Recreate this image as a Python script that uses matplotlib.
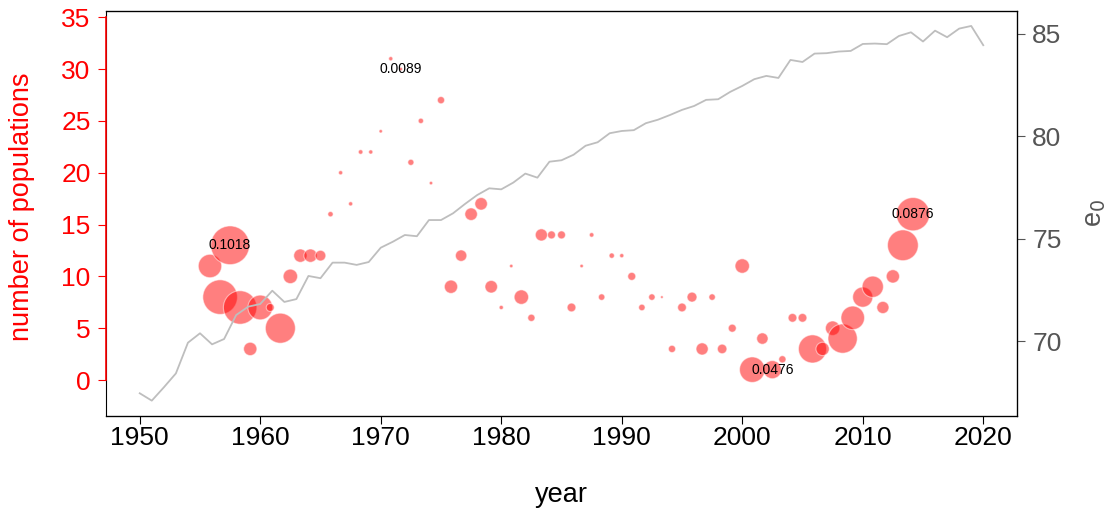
import matplotlib
matplotlib.use("Agg")
from matplotlib import pyplot as plt

plt.rcParams['font.family'] = ['Liberation Sans', 'DejaVu Sans']

# life expectancy line (right axis)
line_years = list(range(1950, 2021))
e0 = [67.45, 67.09, 67.74, 68.42, 69.92, 70.38, 69.84, 70.10, 71.27, 71.68,
      71.81, 72.46, 71.91, 72.05, 73.18, 73.07, 73.83, 73.83, 73.72, 73.86,
      74.56, 74.85, 75.18, 75.12, 75.91, 75.91, 76.24, 76.70, 77.13, 77.46,
      77.41, 77.74, 78.18, 77.98, 78.76, 78.83, 79.10, 79.54, 79.71, 80.15,
      80.26, 80.30, 80.64, 80.81, 81.04, 81.29, 81.48, 81.78, 81.81, 82.17,
      82.46, 82.79, 82.95, 82.85, 83.73, 83.63, 84.04, 84.06, 84.14, 84.17,
      84.51, 84.53, 84.50, 84.90, 85.08, 84.63, 85.16, 84.84, 85.26, 85.39,
      84.45]

# bubbles (left axis)
bubble_x = [1955.83, 1956.67, 1957.50, 1958.33, 1959.17, 1960.00, 1960.83,
            1961.67, 1962.50, 1963.33, 1964.17, 1965.00, 1965.83, 1966.67,
            1967.50, 1968.33, 1969.17, 1970.00, 1970.83, 1971.67, 1972.50,
            1973.33, 1974.17, 1975.00, 1975.83, 1976.67, 1977.50, 1978.33,
            1979.17, 1980.00, 1980.83, 1981.67, 1982.50, 1983.33, 1984.17,
            1985.00, 1985.83, 1986.67, 1987.50, 1988.33, 1989.17, 1990.00,
            1990.83, 1991.67, 1992.50, 1993.33, 1994.17, 1995.00, 1995.83,
            1996.67, 1997.50, 1998.33, 1999.17, 2000.00, 2000.83, 2001.67,
            2002.50, 2003.33, 2004.17, 2005.00, 2005.83, 2006.67, 2007.50,
            2008.33, 2009.17, 2010.00, 2010.83, 2011.67, 2012.50, 2013.33,
            2014.17]
n_pops = [11, 8, 13, 7, 3, 7, 7, 5, 10, 12, 12, 12, 16, 20, 17, 22, 22, 24,
          31, 30, 21, 25, 19, 27, 9, 12, 16, 17, 9, 7, 11, 8, 6, 14, 14, 14,
          7, 11, 14, 8, 12, 12, 10, 7, 8, 8, 3, 7, 8, 3, 8, 3, 5, 11, 1, 4,
          1, 2, 6, 6, 3, 3, 5, 4, 6, 8, 9, 7, 10, 13, 16]
gap = [0.0616, 0.091, 0.1018, 0.088, 0.035, 0.065, 0.021, 0.079, 0.038,
       0.035, 0.035, 0.028, 0.014, 0.011, 0.011, 0.012, 0.011, 0.009, 0.011,
       0.0089, 0.016, 0.014, 0.009, 0.019, 0.035, 0.030, 0.033, 0.033, 0.033,
       0.011, 0.009, 0.038, 0.019, 0.032, 0.021, 0.021, 0.023, 0.009, 0.012,
       0.017, 0.014, 0.011, 0.021, 0.017, 0.017, 0.007, 0.019, 0.023, 0.026,
       0.032, 0.017, 0.025, 0.021, 0.038, 0.067, 0.030, 0.0476, 0.019, 0.023,
       0.023, 0.074, 0.035, 0.038, 0.077, 0.062, 0.053, 0.056, 0.032, 0.035,
       0.081, 0.0876]
labelled = [1957.50, 1971.67, 2002.50, 2014.17]

fig = plt.figure(figsize=(11.1, 5.12), dpi=100)
ax = fig.add_axes([106 / 1110, 1 - 416 / 512, 911 / 1110, 405 / 512])
ax2 = ax.twinx()

sizes = [(g * 273.6) ** 2 for g in gap]
ax.scatter(bubble_x, n_pops, s=sizes, color='red', alpha=0.5,
           edgecolors='white', linewidths=0.8, zorder=3)
for x, y, g in zip(bubble_x, n_pops, gap):
	if x in labelled:
		ax.text(x, y, f"{g:.4f}", ha='center', va='center', fontsize=10,
		        color='black', zorder=5)

ax2.plot(line_years, e0, color='#BEBEBE', lw=1.3)

ax.set_xlim(1947.2, 2022.8)
ax.set_ylim(-3.47, 35.6)
ax2.set_ylim(66.34, 86.12)

ax.set_xticks(range(1950, 2021, 10))
ax.set_yticks(range(0, 36, 5))
ax2.set_yticks([70, 75, 80, 85])

ax.tick_params(axis='x', labelsize=19, length=6, width=0.8, pad=1, colors='black')
ax.tick_params(axis='y', labelsize=19, length=6, width=0.8, pad=5,
               colors='red')
ax2.tick_params(axis='y', labelsize=19, length=6, width=0.8, pad=5,
                colors='#555555')

for side in ['left', 'right', 'top', 'bottom']:
	ax.spines[side].set_color('black')
	ax2.spines[side].set_color('black')
	ax2.spines[side].set_linewidth(0.9)
ax2.spines['left'].set_visible(False)
# red left axis line over the ticked range only
ax2.plot([1947.2, 1947.2], [0, 35], color='red', lw=1.2,
         transform=ax.transData, clip_on=False, zorder=6)

fig.text(22 / 1110, 1 - 207 / 512, "number of populations", rotation=90,
         ha='center', va='center', fontsize=19.5, color='red')
fig.text(561.5 / 1110, 1 - 495 / 512, "year", ha='center', va='center',
         fontsize=19.5, color='black')
fig.text(1095 / 1110, 1 - 213 / 512, "e$_0$", rotation=90, ha='center',
         va='center', fontsize=19.5, color='#555555')

fig.savefig("out.png", dpi=100)
